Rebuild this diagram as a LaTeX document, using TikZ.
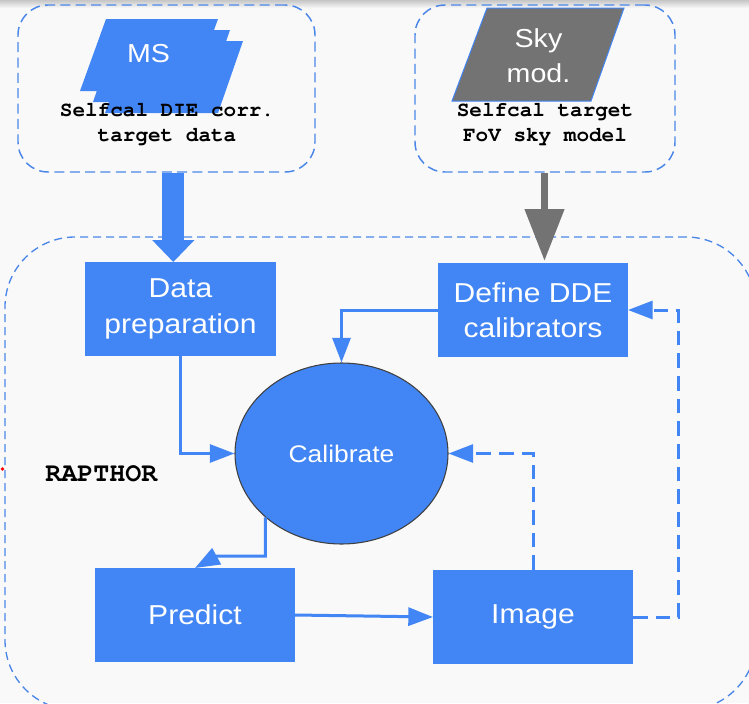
\documentclass[tikz,border=0pt]{standalone}
\usepackage[T1]{fontenc}
\usepackage{fontspec}
\setmainfont{Liberation Sans}
\newfontfamily\bx[FakeStretch=1.1]{Liberation Sans}
\newcommand\courbold{\fontencoding{T1}\fontfamily{pcr}\fontseries{b}\selectfont}
\usetikzlibrary{arrows.meta,shapes.geometric,calc}
\definecolor{gblue}{HTML}{4285F4}
\definecolor{dblue}{HTML}{4A86E8}
\definecolor{sgray}{HTML}{737373}
\definecolor{bgc}{HTML}{F9F9F9}
\begin{document}
\begin{tikzpicture}[x=0.75pt,y=-0.75pt,
  procbox/.style={fill=gblue, text=white, minimum height=70.5pt, inner sep=0pt, outer sep=0pt,
    align=center, font=\bx\fontsize{20.5}{26.5}\selectfont},
  dbox/.style={draw=dblue, dash pattern=on 7.5pt off 4pt, line width=1.1pt, rounded corners=22.5pt,
    inner sep=0pt, minimum height=125.25pt},
  conn/.style={draw=gblue, line width=2.25pt, -{Triangle[length=18.5pt,width=13.5pt]}},
  dconn/.style={conn, dash pattern=on 11pt off 6pt},
  captext/.style={font=\courbold\fontsize{15.75}{18.75}\selectfont, align=center, inner sep=0pt},
  shapetext/.style={text=white, align=center, inner sep=0pt, font=\bx\fontsize{19.5}{26}\selectfont}
]
\useasboundingbox (0,0) rectangle (749,703);
\fill[bgc] (0,0) rectangle (749,703);
\shade[top color=gray!45, bottom color=bgc] (0,0) rectangle (749,8);

% dashed containers
\node[dbox, minimum width=222.75pt] (msbox) at (166.5,88.5) {};
\node[dbox, minimum width=195pt] (skybox) at (545,88.5) {};
\node[draw=dblue, dash pattern=on 6pt off 3.75pt, line width=1pt, rounded corners=52.5pt,
  minimum width=563.25pt, minimum height=354.75pt, inner sep=0pt] (rap) at (380.5,473.5) {};

% MS stacked data shape
\fill[gblue] (130,41) -- (243,41) -- (218,113) -- (105,113) -- cycle;
\fill[gblue] (118,30) -- (230,30) -- (205,102) -- (93,102) -- cycle;
\fill[gblue] (106,19) -- (218,19) -- (192,91) -- (80,91) -- cycle;
\node[shapetext] (mstxt) at (148.5,54) {MS};

% Sky model shape
\filldraw[fill=sgray, draw=gblue, line width=0.75pt] (487,8) -- (624,8) -- (591,101) -- (452,101) -- cycle;
\node[shapetext] (skytxt) at (538.5,56) {Sky\\mod.};

\node[captext] (mslbl) at (167,124) {Selfcal DIE corr.\\target data};
\node[captext] (skylbl) at (545,124) {Selfcal target\\FoV sky model};

% process nodes
\node[procbox, minimum width=143.25pt] (prep) at (180.5,309) {Data\\preparation};
\node[procbox, minimum width=142.5pt] (dde) at (533,310) {Define DDE\\calibrators};
\node[procbox, minimum width=150pt] (pred) at (195,615) {Predict};
\node[procbox, minimum width=150pt] (img) at (533,617) {Image};
\node[ellipse, fill=gblue, draw=black!75, line width=0.8pt, minimum width=159.75pt, minimum height=135.75pt,
  inner sep=0pt, text=white, font=\bx\fontsize{18}{22}\selectfont] (cal) at (341.5,453.5) {Calibrate};

\node[anchor=base west, inner sep=0pt, font=\courbold\fontsize{20}{22}\selectfont] (raplbl) at (45,481) {RAPTHOR};
\fill[red] (2.5,469) circle (1.4pt);

% input arrows
\coordinate (ax) at (173.3,0);
\coordinate (gx) at (544.5,0);
\draw[gblue, line width=16.5pt, -{Triangle[length=16.5pt,width=30.75pt]}] (msbox.south -| ax) -- (prep.north -| ax);
\draw[sgray, line width=5.8pt, -{Triangle[length=39pt,width=28.5pt]}] (skybox.south -| gx) -- ($(dde.north -| gx)+(0,-2)$);

% connectors
\coordinate (cpbend) at (217,556);
\coordinate (loopx) at (678.5,0);
\draw[conn] (prep.south) |- (cal.west);
\draw[conn] (dde.west) -| (cal.north);
\draw[conn] (cal.220) |- (cpbend) -- (pred.north);
\draw[conn] (pred.east) -- (img.west);
\draw[dconn] (img.north) |- (cal.east);
\draw[dconn] (img.east) -- (img.east -| loopx) -- (dde.east -| loopx) -- (dde.east);
\end{tikzpicture}
\end{document}
